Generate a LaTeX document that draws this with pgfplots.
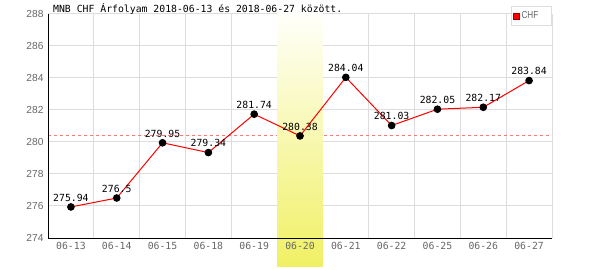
\documentclass[border=0pt]{standalone}
\usepackage{pgfplots}
\pgfplotsset{compat=1.18}
\usepackage{fontspec}
\setmainfont{Liberation Sans}
\setmonofont{DejaVu Sans Mono}
\newfontfamily\narrowfont[FakeStretch=0.8]{Liberation Sans}
\definecolor{gridc}{RGB}{221,221,221}
\definecolor{tickc}{RGB}{102,102,102}
\definecolor{hly}{RGB}{240,240,100}
\definecolor{hlw}{RGB}{255,255,250}
\definecolor{dashc}{RGB}{255,120,120}
\begin{document}
\begin{tikzpicture}
\begin{axis}[
  at={(0,0)}, anchor=south west,
  scale only axis, width=504bp, height=224bp,
  set layers, clip=false,
  xmin=-0.5, xmax=10.5, ymin=274, ymax=288,
  axis lines=left, axis line style={-, line width=1bp, black},
  xtick={0,...,10},
  xticklabels={06-13,06-14,06-15,06-18,06-19,06-20,06-21,06-22,06-25,06-26,06-27},
  minor xtick={-0.5,0.5,...,10.5},
  ytick={274,276,...,288},
  major tick length=0pt, minor tick length=0pt,
  ymajorgrids, xminorgrids, xmajorgrids=false,
  grid style={gridc, line width=1bp},
  minor grid style={gridc, line width=1bp},
  /pgf/number format/assume math mode=true,
  x tick label style={font=\ttfamily\fontsize{9.8bp}{10bp}\selectfont, text=tickc, yshift=-1bp},
  y tick label style={font=\fontsize{10.2bp}{11bp}\selectfont, text=tickc, xshift=-1bp},
  title={MNB CHF Árfolyam 2018-06-13 és 2018-06-27 között.},
  every axis title/.style={at={(0,1)}, anchor=base west, xshift=5bp, yshift=1.5bp, inner sep=0pt,
    font=\ttfamily\fontsize{9.8bp}{10bp}\selectfont, text=black},
  legend style={at={(1,1)}, anchor=north east, yshift=8bp, draw=gridc, line width=1bp, fill=white,
    font=\narrowfont\fontsize{10.2bp}{11bp}\selectfont, text=tickc, inner xsep=2bp, inner ysep=3bp,
    legend cell align=left},
  legend image code/.code={\fill[red, draw=red!60!black, line width=0.5bp] (0bp,-3bp) rectangle (6bp,3bp);},
  nodes near coords, point meta=explicit symbolic,
  every node near coord/.style={font=\ttfamily\fontsize{9.8bp}{10bp}\selectfont, text=black, anchor=south, inner sep=0pt, yshift=5bp},
]
\begin{pgfonlayer}{axis grid}
\draw[dashc, line width=1bp, dash pattern=on 3bp off 3bp] (axis cs:-0.5,280.38) -- (axis cs:10.5,280.38);
\end{pgfonlayer}
\begin{pgfonlayer}{axis ticks}
\shade[top color=hlw, bottom color=hly] (axis cs:4.5,272.19) rectangle (axis cs:5.5,288);
\end{pgfonlayer}
\addplot[red, line width=1bp, mark=*, mark size=3.3bp, mark options={black, fill=black, solid}]
  coordinates {
  (0,275.94) [275.94]
  (1,276.5) [276.5]
  (2,279.95) [279.95]
  (3,279.34) [279.34]
  (4,281.74) [281.74]
  (5,280.38) [280.38]
  (6,284.04) [284.04]
  (7,281.03) [281.03]
  (8,282.05) [282.05]
  (9,282.17) [282.17]
  (10,283.84) [283.84]
  };
\addlegendentry{\makebox[26bp][l]{CHF}}
\end{axis}
\pgfresetboundingbox
\path[use as bounding box] (-48bp,-32bp) rectangle (552bp,238bp);
\end{tikzpicture}
\end{document}
